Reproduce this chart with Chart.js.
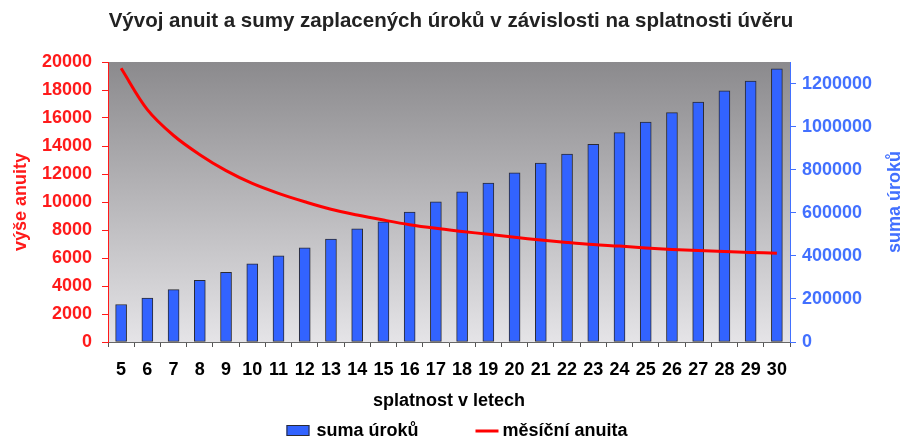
<!DOCTYPE html>
<html>
<head>
<meta charset="utf-8">
<script src="https://cdn.jsdelivr.net/npm/chart.js@4/dist/chart.umd.min.js"></script>
<style>
html, body { margin: 0; padding: 0; background: #fff; }
#wrap { width: 902px; height: 439px; }
</style>
</head>
<body>
<div id="wrap"><canvas id="chart"></canvas></div>
<script>
const years = ['5', '6', '7', '8', '9', '10', '11', '12', '13', '14', '15', '16', '17', '18', '19', '20', '21', '22', '23', '24', '25', '26', '27', '28', '29', '30'];
const interestSums = [174000, 204000, 243000, 286000, 323000, 363000, 400000, 437000, 478000, 525000, 558000, 603000, 651000,
    697000, 738000, 785000, 831000, 872000, 918000, 972000, 1021000, 1065000, 1114000, 1166000, 1211000, 1268000];
const monthlyAnnuity = [19550, 16600, 14750, 13380, 12240, 11330, 10620, 10020, 9480, 9070, 8710, 8380, 8120,
    7900, 7690, 7480, 7280, 7110, 6960, 6850, 6720, 6610, 6530, 6470, 6400, 6340];
const leftTickValues = [0, 2000, 4000, 6000, 8000, 10000, 12000, 14000, 16000, 18000, 20000];
const rightTickValues = [0, 200000, 400000, 600000, 800000, 1000000, 1200000];
const rightMax = 1300000;

const RED = '#ff1a1a';
const BLUE = '#4270ff';
const FAMILY = "'Liberation Sans', Arial, sans-serif";
const FONT = { family: FAMILY, size: 18, weight: 'bold' };

// grey gradient behind the plot
const plotBg = {
    id: 'plotBg',
    beforeDraw(chart) {
        const { ctx, chartArea: a } = chart;
        const g = ctx.createLinearGradient(0, a.top, 0, a.bottom);
        g.addColorStop(0, '#8b8a8d');
        g.addColorStop(1, '#e5e4e7');
        ctx.save();
        ctx.fillStyle = g;
        ctx.fillRect(a.left, a.top, a.right - a.left, a.bottom - a.top);
        ctx.restore();
    }
};

// right axis title (reads bottom to top) and the legend row
const extras = {
    id: 'extras',
    afterDraw(chart) {
        const { ctx, chartArea: a } = chart;
        const f = `bold 18px ${FAMILY}`;
        ctx.save();
        ctx.font = f;
        ctx.fillStyle = BLUE;
        ctx.textAlign = 'center';
        ctx.textBaseline = 'middle';
        ctx.translate(895, (a.top + a.bottom) / 2);
        ctx.rotate(-Math.PI / 2);
        ctx.fillText('suma úroků', 0, 0);
        ctx.restore();

        const ds = chart.data.datasets;
        ctx.save();
        ctx.font = f;
        ctx.textBaseline = 'middle';
        ctx.textAlign = 'left';
        const w1 = ctx.measureText(ds[0].label).width;
        const w2 = ctx.measureText(ds[1].label).width;
        const total = 23 + 7 + w1 + 57 + 23 + 4 + w2;
        let x = 457 - total / 2;
        const y = 431;
        ctx.fillStyle = ds[0].backgroundColor;
        ctx.strokeStyle = ds[0].borderColor;
        ctx.lineWidth = 1;
        ctx.fillRect(x, y - 6, 23, 11);
        ctx.strokeRect(x + 0.5, y - 5.5, 22, 10);
        x += 30;
        ctx.fillStyle = '#000';
        ctx.fillText(ds[0].label, x, y);
        x += w1 + 57;
        ctx.strokeStyle = ds[1].borderColor;
        ctx.lineWidth = 3;
        ctx.beginPath();
        ctx.moveTo(x, y);
        ctx.lineTo(x + 23, y);
        ctx.stroke();
        x += 27;
        ctx.fillText(ds[1].label, x, y);
        ctx.restore();
    }
};

const ctx = document.getElementById('chart').getContext('2d');
const chart = new Chart(ctx, {
    type: 'bar',
    data: {
        labels: years,
        datasets: [{
            type: 'bar',
            label: 'suma úroků',
            data: interestSums,
            yAxisID: 'yR',
            backgroundColor: '#3263ff',
            borderColor: '#2b2b33',
            borderWidth: 1,
            borderSkipped: false,
            barThickness: 11,
            order: 1
        }, {
            type: 'line',
            label: 'měsíční anuita',
            data: monthlyAnnuity,
            yAxisID: 'yL',
            borderColor: '#ff0000',
            borderWidth: 3,
            pointRadius: 0,
            tension: 0.35,
            fill: false,
            order: 0
        }]
    },
    options: {
        responsive: true,
        maintainAspectRatio: false,
        animation: false,
        layout: { padding: { top: 0, bottom: 27, left: 0, right: 0 } },
        plugins: {
            legend: { display: false },
            tooltip: { enabled: false },
            title: {
                display: true,
                text: 'Vývoj anuit a sumy zaplacených úroků v závislosti na splatnosti úvěru',
                color: '#222',
                font: { family: FAMILY, size: 20.5, weight: 'bold' },
                padding: { top: 9, bottom: 28.4 }
            }
        },
        scales: {
            x: {
                offset: true,
                grid: { offset: true, drawOnChartArea: false, tickLength: 5, color: '#555' },
                border: { color: '#666' },
                ticks: { color: '#000', font: FONT, autoSkip: false, maxRotation: 0, padding: 12 },
                title: { display: true, text: 'splatnost v letech', color: '#000', font: FONT, padding: 0 },
                afterFit(s) { s.height = 70; }
            },
            yL: {
                position: 'left',
                min: leftTickValues[0],
                max: leftTickValues[leftTickValues.length - 1],
                grid: { drawOnChartArea: false, tickLength: 6, color: RED },
                border: { color: RED },
                ticks: { color: RED, font: FONT, padding: 10, autoSkip: false, callback: v => String(v) },
                afterBuildTicks(s) { s.ticks = leftTickValues.map(v => ({ value: v })); },
                title: { display: true, text: 'výše anuity', color: RED, font: FONT, padding: { top: 10, bottom: 0 } },
                afterFit(s) { s.width = 108; }
            },
            yR: {
                position: 'right',
                min: 0,
                max: rightMax,
                grid: { drawOnChartArea: false, tickLength: 6, color: BLUE },
                border: { color: BLUE },
                ticks: { color: BLUE, font: FONT, padding: 6, autoSkip: false, callback: v => String(v) },
                afterBuildTicks(s) { s.ticks = rightTickValues.map(v => ({ value: v })); },
                afterFit(s) { s.width = 112; }
            }
        }
    },
    plugins: [plotBg, extras]
});
</script>
</body>
</html>
